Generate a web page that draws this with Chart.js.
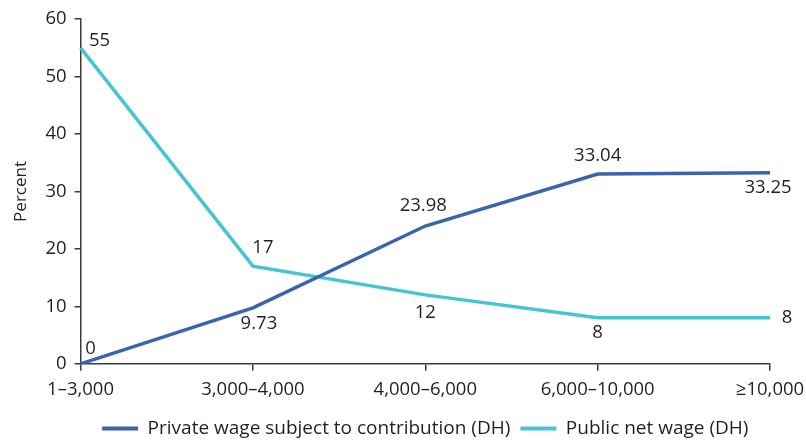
<!DOCTYPE html>
<html>
<head>
<meta charset="utf-8">
<script src="https://cdn.jsdelivr.net/npm/chart.js@4"></script>
<style>
  html, body { margin: 0; padding: 0; background: #fff; }
  #wrap { width: 806px; height: 443px; position: relative; }
</style>
</head>
<body>
<div id="wrap"><canvas id="chart"></canvas></div>
<script>
// categories and values
const categories = ['1\u20133,000', '3,000\u20134,000', '4,000\u20136,000', '6,000\u201310,000', '\u226510,000'];
const privateWage = [0, 9.73, 23.98, 33.04, 33.25];
const publicWage  = [55, 17, 12, 8, 8];
const privateLabels = ['0', '9.73', '23.98', '33.04', '33.25'];
const publicLabels  = ['55', '17', '12', '8', '8'];

// label offsets (dx, dy) from each point, in px
const privateOffset = [[10, -15], [6, 16], [-2, -20], [0, -18], [-2, 15]];
const publicOffset  = [[19, -7], [10, -18], [0, 18], [0, 15], [17, 0]];

const FONT = '"Open Sans", "Noto Sans", sans-serif';
const TEXT = '#231f20';
const FS = 18.5;

const valueLabels = {
  id: 'valueLabels',
  afterDatasetsDraw(chart) {
    const ctx = chart.ctx;
    ctx.save();
    ctx.font = FS + 'px ' + FONT;
    ctx.fillStyle = TEXT;
    ctx.textAlign = 'center';
    ctx.textBaseline = 'middle';
    chart.data.datasets.forEach((ds, di) => {
      const meta = chart.getDatasetMeta(di);
      meta.data.forEach((pt, i) => {
        const off = ds.labelOffset[i];
        ctx.fillText(ds.valueText[i], pt.x + off[0], pt.y + off[1]);
      });
    });
    ctx.restore();
  }
};

new Chart(document.getElementById('chart'), {
  type: 'line',
  data: {
    labels: categories,
    datasets: [
      {
        label: 'Private wage subject to contribution (DH)',
        data: privateWage,
        valueText: privateLabels,
        labelOffset: privateOffset,
        borderColor: '#3a65ac',
        backgroundColor: '#3a65ac',
        borderWidth: 3.5,
        pointRadius: 0,
        tension: 0
      },
      {
        label: 'Public net wage (DH)',
        data: publicWage,
        valueText: publicLabels,
        labelOffset: publicOffset,
        borderColor: '#45c4d1',
        backgroundColor: '#45c4d1',
        borderWidth: 3.5,
        pointRadius: 0,
        tension: 0
      }
    ]
  },
  options: {
    responsive: true,
    maintainAspectRatio: false,
    animation: false,
    layout: { padding: { top: 6, right: 0, left: 7, bottom: -5 } },
    scales: {
      x: {
        offset: false,
        afterFit(scale) { scale.paddingRight = 36; },
        border: { color: '#3a3a3a', width: 1.5 },
        grid: { display: true, drawOnChartArea: false, tickLength: 7, color: '#3a3a3a', lineWidth: 1.5 },
        ticks: { color: TEXT, font: { family: FONT, size: FS }, padding: 8, maxRotation: 0, autoSkip: false }
      },
      y: {
        min: 0, max: 60,
        border: { color: '#3a3a3a', width: 1.5 },
        grid: { display: true, drawOnChartArea: false, tickLength: 6, color: '#3a3a3a', lineWidth: 1.5 },
        ticks: { stepSize: 10, color: TEXT, font: { family: FONT, size: FS }, padding: 8 },
        title: { display: true, text: 'Percent', color: TEXT, font: { family: FONT, size: 17 }, padding: { bottom: 6 } }
      }
    },
    plugins: {
      legend: {
        position: 'bottom',
        fullSize: false,
        labels: {
          color: TEXT,
          font: { family: FONT, size: 19 },
          boxWidth: 36,
          boxHeight: 4,
          padding: 10,
          generateLabels(chart) {
            return chart.data.datasets.map((ds, i) => ({
              text: ds.label,
              fillStyle: ds.borderColor,
              strokeStyle: ds.borderColor,
              lineWidth: 0,
              datasetIndex: i,
              fontColor: TEXT
            }));
          }
        }
      },
      tooltip: { enabled: false }
    }
  },
  plugins: [valueLabels]
});
</script>
</body>
</html>
